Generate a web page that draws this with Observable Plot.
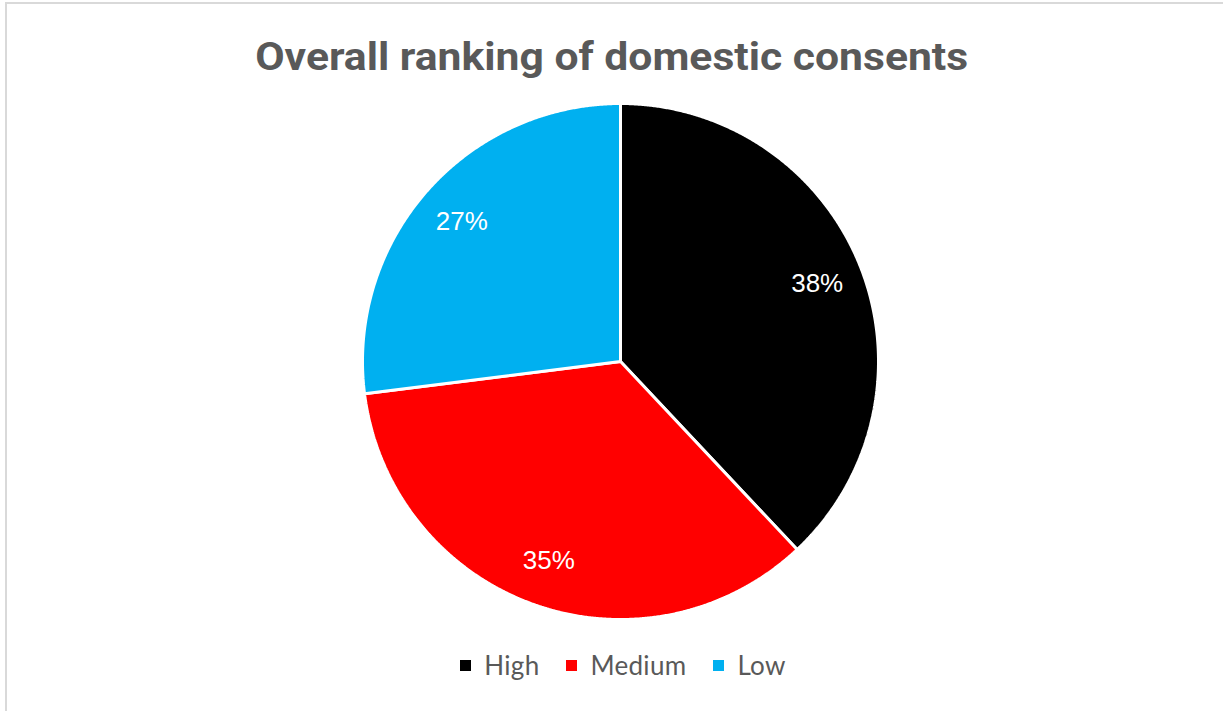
<!DOCTYPE html>
<html>
<head>
<meta charset="utf-8">
<script src="https://cdn.jsdelivr.net/npm/d3@7"></script>
<script src="https://cdn.jsdelivr.net/npm/@observablehq/plot@0.6"></script>
<style>
  html, body { margin: 0; padding: 0; background: #fff; }
  #wrap { position: relative; width: 1223px; height: 711px; overflow: hidden; }
  #frame { position: absolute; left: 5px; top: 2px; width: 1300px; height: 800px;
           border-top: 2px solid #d9d9d9; border-left: 2px solid #d9d9d9; box-sizing: border-box; }
  #title { position: absolute; left: 0; width: 1223px; top: 37px; text-align: center;
           font-family: Roboto, "DejaVu Sans Condensed", sans-serif;
           font-weight: bold; font-size: 38px; line-height: 40px; color: #595959; white-space: nowrap; }
  #title span { display: inline-block; transform-origin: center; }
  #chart { position: absolute; left: 0; top: 96px; }
  #legend { position: absolute; left: 0; width: 1223px; box-sizing: border-box; padding-left: 23px; top: 650px;
            display: flex; justify-content: center;
            font-family: Lato, "Open Sans", sans-serif; font-size: 26px; letter-spacing: 0.3px; line-height: 30px; color: #595959; }
  .item { display: flex; align-items: center; margin: 0 13.5px; }
  .sw { width: 11px; height: 11px; margin-right: 13px; }
</style>
</head>
<body>
<div id="wrap">
  <div id="frame"></div>
  <div id="title"><span id="tspan"></span></div>
  <div id="chart"></div>
  <div id="legend"></div>
</div>
<script>
const titleText = "Overall ranking of domestic consents";
const categories = ["High", "Medium", "Low"];
const values = [38, 35, 27];
const colors = ["#000000", "#FF0000", "#00B0F0"];

const slices = d3.pie().sort(null).value(d => d.value)(
  categories.map((c, i) => ({category: c, value: values[i]}))
);
const total = d3.sum(values);

// outline points for each slice (center -> arc -> center), derived from pie angles
const outline = [];
for (const s of slices) {
  const n = Math.max(2, Math.ceil((s.endAngle - s.startAngle) / 0.005));
  outline.push({category: s.data.category, x: 0, y: 0});
  for (let k = 0; k <= n; k++) {
    const a = s.startAngle + (s.endAngle - s.startAngle) * k / n;
    outline.push({category: s.data.category, x: Math.sin(a), y: Math.cos(a)});
  }
  outline.push({category: s.data.category, x: 0, y: 0});
}
const labelR = 0.82;
const labels = slices.map(s => {
  const a = (s.startAngle + s.endAngle) / 2;
  return {label: Math.round(100 * s.data.value / total) + "%", x: labelR * Math.sin(a), y: labelR * Math.cos(a)};
});

const chart = Plot.plot({
  width: 1223,
  height: 544,
  marginLeft: 362,
  marginRight: 345,
  marginTop: 7,
  marginBottom: 21,
  x: {domain: [-1, 1], axis: null},
  y: {domain: [-1, 1], axis: null},
  color: {domain: categories, range: colors},
  marks: [
    Plot.line(outline, {x: "x", y: "y", z: "category", fill: "category", stroke: "#fff", strokeWidth: 3, strokeLinejoin: "miter"}),
    Plot.text(labels, {x: "x", y: "y", text: "label", fill: "#fff", fontSize: 26, fontFamily: "Liberation Sans, Arial, sans-serif"})
  ]
});
document.getElementById("chart").appendChild(chart);

const tspan = document.getElementById("tspan");
tspan.textContent = titleText;
const w = tspan.getBoundingClientRect().width;
tspan.style.transform = `scaleX(${713 / w})`;

const legend = document.getElementById("legend");
categories.forEach((c, i) => {
  const it = document.createElement("div");
  it.className = "item";
  const sw = document.createElement("div");
  sw.className = "sw";
  sw.style.background = colors[i];
  const t = document.createElement("span");
  t.textContent = c;
  it.appendChild(sw); it.appendChild(t);
  legend.appendChild(it);
});
</script>
</body>
</html>
